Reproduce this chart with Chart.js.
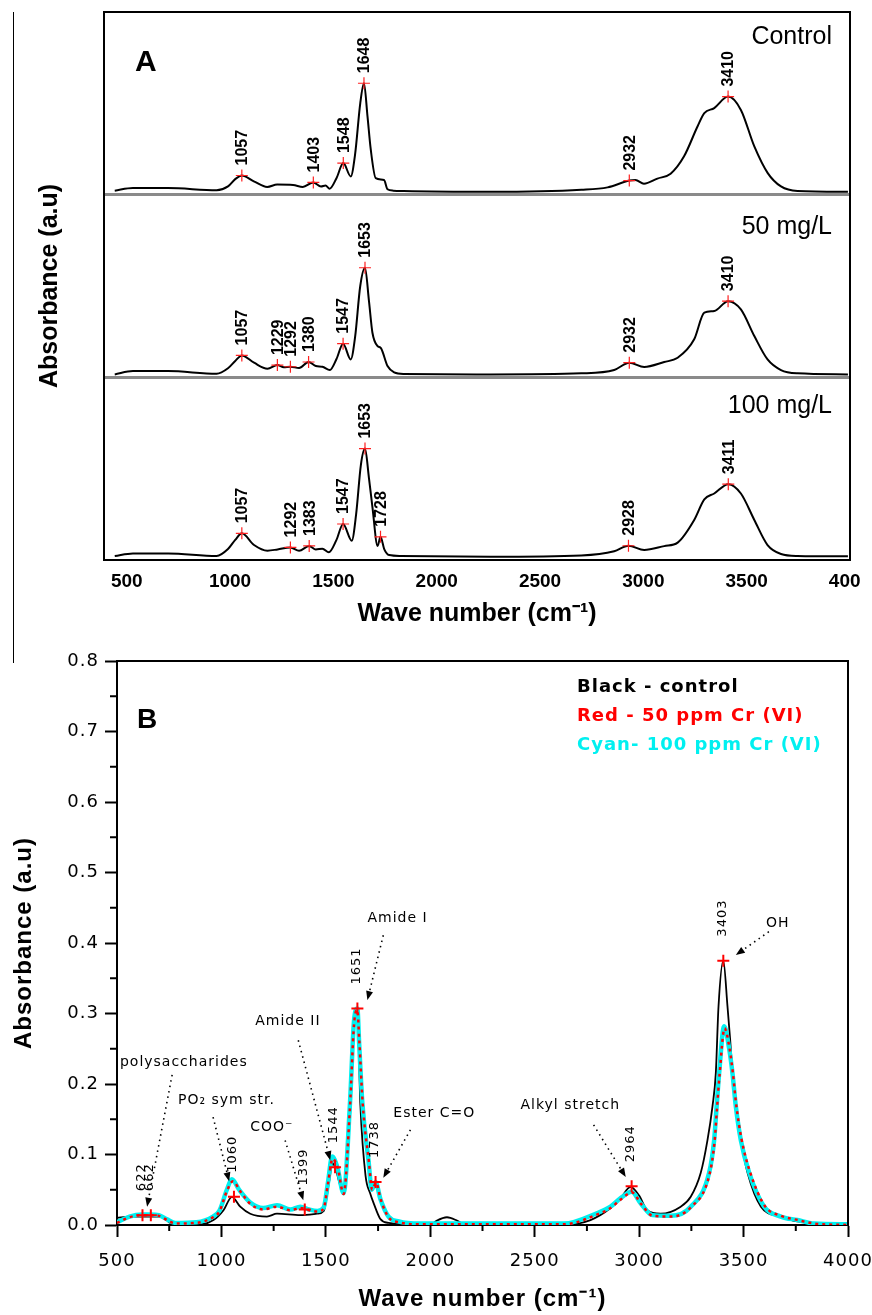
<!DOCTYPE html>
<html>
<head>
<meta charset="utf-8">
<script src="https://cdn.jsdelivr.net/npm/chart.js@4.4.1/dist/chart.umd.min.js"></script>
<style>
  html, body { margin: 0; padding: 0; background: #fff; }
  #wrap { position: relative; width: 872px; height: 1315px; overflow: hidden; background: #fff; }
  #boxA { position: absolute; left: 0; top: 0; }
  #boxB { position: absolute; left: 0; top: 640px; }
  #edge { position: absolute; left: 13px; top: 12px; width: 1px; height: 651px; background: #000; z-index: 5; }
</style>
</head>
<body>
<div id="wrap">
  <div id="boxA"><canvas id="chartA" width="860" height="640"></canvas></div>
  <div id="boxB"><canvas id="chartB" width="872" height="675"></canvas></div>
  <div id="edge"></div>
</div>
<script>
// ---- panel A : three FTIR spectra, stacked (values in a.u. of each band) ----
const ctrlWave = [442, 530, 700, 935, 990, 1025, 1057, 1115, 1180, 1228, 1305, 1352, 1403, 1440, 1462, 1482, 1515, 1548, 1584, 1605, 1630, 1648, 1665, 1681, 1705, 1745, 1762, 1790, 1840, 2260, 2700, 2827, 2932, 2962, 3003, 3068, 3132, 3197, 3262, 3295, 3343, 3410, 3472, 3537, 3602, 3666, 3746, 3990];
const ctrlAbs = [0.022, 0.036, 0.036, 0.024, 0.045, 0.085, 0.105, 0.073, 0.042, 0.055, 0.053, 0.042, 0.067, 0.045, 0.05, 0.033, 0.09, 0.173, 0.1, 0.22, 0.5, 0.61, 0.43, 0.246, 0.09, 0.08, 0.03, 0.022, 0.02, 0.016, 0.027, 0.04, 0.077, 0.08, 0.06, 0.088, 0.115, 0.21, 0.373, 0.446, 0.474, 0.537, 0.464, 0.264, 0.118, 0.045, 0.02, 0.016];
const ctrlPeaks = [1057, 1403, 1548, 1648, 2932, 3410];

const mg50Wave = [442, 530, 700, 935, 990, 1025, 1057, 1116, 1181, 1229, 1260, 1292, 1334, 1380, 1415, 1447, 1483, 1515, 1547, 1584, 1605, 1630, 1653, 1672, 1689, 1714, 1730, 1762, 1794, 1840, 2260, 2700, 2859, 2932, 3004, 3101, 3166, 3246, 3295, 3343, 3410, 3472, 3537, 3601, 3666, 3746, 3990];
const mg50Abs = [0.016, 0.034, 0.034, 0.02, 0.05, 0.09, 0.12, 0.08, 0.047, 0.067, 0.055, 0.058, 0.051, 0.084, 0.062, 0.058, 0.04, 0.1, 0.184, 0.098, 0.22, 0.5, 0.6, 0.42, 0.244, 0.171, 0.16, 0.062, 0.027, 0.018, 0.016, 0.022, 0.04, 0.08, 0.057, 0.084, 0.107, 0.208, 0.354, 0.363, 0.417, 0.372, 0.226, 0.098, 0.04, 0.022, 0.016];
const mg50Peaks = [1057, 1229, 1292, 1380, 1547, 1653, 2932, 3410];

const mg100Wave = [442, 530, 700, 935, 990, 1025, 1057, 1116, 1181, 1230, 1292, 1334, 1383, 1415, 1447, 1478, 1515, 1547, 1589, 1610, 1633, 1653, 1672, 1689, 1714, 1728, 1746, 1770, 1826, 2260, 2700, 2859, 2928, 3004, 3101, 3166, 3246, 3295, 3343, 3411, 3472, 3537, 3601, 3666, 3746, 3990];
const mg100Abs = [0.022, 0.036, 0.036, 0.022, 0.06, 0.11, 0.146, 0.082, 0.051, 0.058, 0.069, 0.051, 0.077, 0.058, 0.062, 0.042, 0.11, 0.197, 0.106, 0.25, 0.52, 0.61, 0.45, 0.29, 0.077, 0.127, 0.06, 0.027, 0.022, 0.018, 0.025, 0.048, 0.078, 0.055, 0.076, 0.095, 0.219, 0.332, 0.364, 0.415, 0.364, 0.219, 0.082, 0.033, 0.022, 0.02];
const mg100Peaks = [1057, 1292, 1383, 1547, 1653, 1728, 2928, 3411];

const sampleNamesA = ['Control', '50 mg/L', '100 mg/L'];
const xTicksA = [500, 1000, 1500, 2000, 2500, 3000, 3500, 4000];

// ---- panel B : overlaid spectra ----
const blackWave = [500, 560, 720, 754, 898, 962, 1010, 1050, 1090, 1138, 1218, 1266, 1378, 1458, 1490, 1515, 1532, 1546, 1585, 1615, 1635, 1651, 1665, 1690, 1712, 1730, 1760, 1800, 2000, 2030, 2080, 2130, 2170, 2640, 2767, 2863, 2911, 2959, 2999, 3039, 3103, 3199, 3247, 3295, 3327, 3351, 3367, 3380, 3403, 3423, 3436, 3447, 3463, 3487, 3519, 3583, 3678, 3758, 4000];
const blackAbs = [0.01, 0.012, 0.012, 0.003, 0.001, 0.007, 0.021, 0.04, 0.026, 0.016, 0.012, 0.016, 0.014, 0.016, 0.02, 0.06, 0.088, 0.08, 0.045, 0.15, 0.28, 0.307, 0.172, 0.07, 0.045, 0.03, 0.009, 0.003, 0.0, 0.006, 0.011, 0.006, 0.0, 0.0, 0.007, 0.024, 0.038, 0.054, 0.042, 0.021, 0.016, 0.026, 0.04, 0.074, 0.12, 0.168, 0.215, 0.31, 0.375, 0.31, 0.262, 0.215, 0.168, 0.12, 0.074, 0.026, 0.012, 0.005, 0.0];

const redWave = [500, 560, 622, 662, 700, 740, 780, 880, 960, 990, 1026, 1055, 1090, 1138, 1200, 1266, 1330, 1378, 1420, 1460, 1490, 1510, 1532, 1556, 1585, 1615, 1635, 1651, 1660, 1677, 1706, 1722, 1740, 1763, 1800, 1850, 1950, 2640, 2800, 2863, 2911, 2966, 3009, 3065, 3151, 3247, 3337, 3361, 3373, 3385, 3409, 3433, 3449, 3465, 3490, 3530, 3602, 3680, 3760, 3840, 4000];
const redAbs = [0.003, 0.011, 0.014, 0.014, 0.013, 0.007, 0.002, 0.003, 0.011, 0.019, 0.048, 0.062, 0.048, 0.03, 0.022, 0.026, 0.021, 0.024, 0.021, 0.019, 0.024, 0.058, 0.094, 0.082, 0.044, 0.165, 0.285, 0.305, 0.262, 0.17, 0.09, 0.05, 0.06, 0.036, 0.011, 0.004, 0.001, 0.001, 0.015, 0.024, 0.036, 0.046, 0.03, 0.013, 0.012, 0.025, 0.072, 0.118, 0.166, 0.213, 0.279, 0.25, 0.215, 0.17, 0.122, 0.076, 0.027, 0.013, 0.007, 0.002, 0.0];

const cyanWave = [500, 560, 620, 662, 700, 740, 780, 880, 960, 990, 1026, 1050, 1085, 1138, 1200, 1266, 1330, 1378, 1420, 1460, 1490, 1510, 1530, 1554, 1585, 1615, 1635, 1651, 1659, 1675, 1704, 1720, 1738, 1761, 1800, 1850, 1950, 2640, 2800, 2863, 2911, 2964, 3007, 3063, 3151, 3247, 3335, 3359, 3371, 3383, 3407, 3431, 3447, 3463, 3487, 3527, 3599, 3678, 3758, 3838, 4000];
const cyanAbs = [0.004, 0.012, 0.015, 0.015, 0.014, 0.008, 0.003, 0.004, 0.012, 0.02, 0.05, 0.065, 0.05, 0.032, 0.024, 0.028, 0.022, 0.026, 0.022, 0.02, 0.025, 0.06, 0.097, 0.083, 0.045, 0.17, 0.29, 0.307, 0.26, 0.172, 0.092, 0.05, 0.061, 0.037, 0.012, 0.005, 0.002, 0.002, 0.017, 0.026, 0.038, 0.047, 0.031, 0.014, 0.013, 0.026, 0.074, 0.12, 0.168, 0.215, 0.282, 0.25, 0.215, 0.168, 0.12, 0.074, 0.026, 0.012, 0.007, 0.002, 0.001];

const peakWaveB = [622, 662, 1060, 1399, 1544, 1651, 1738, 2964, 3403];
const peakAbsB = [0.014, 0.014, 0.04, 0.022, 0.082, 0.307, 0.061, 0.055, 0.375];

const xTicksB = [500, 1000, 1500, 2000, 2500, 3000, 3500, 4000];
const yTicksB = [0, 0.1, 0.2, 0.3, 0.4, 0.5, 0.6, 0.7, 0.8];

const legendB = [
  { text: 'Black - control', color: '#000000' },
  { text: 'Red - 50 ppm Cr (VI)', color: '#ff0000' },
  { text: 'Cyan- 100 ppm Cr (VI)', color: '#00f0f0' }
];

// band annotations: text anchor, start of dotted leader, arrow tip (all in data units)
const notesB = [
  { text: 'polysaccharides', at: [514, 0.231], from: [764, 0.213], to: [644, 0.026] },
  { text: 'PO₂ sym str.', at: [792, 0.177], from: [960, 0.153], to: [1037, 0.062] },
  { text: 'COO⁻', at: [1138, 0.139], from: [1305, 0.12], to: [1392, 0.035] },
  { text: 'Amide II', at: [1162, 0.289], from: [1368, 0.262], to: [1521, 0.092] },
  { text: 'Amide I', at: [1699, 0.435], from: [1775, 0.411], to: [1699, 0.319] },
  { text: 'Ester C=O', at: [1823, 0.159], from: [1905, 0.135], to: [1775, 0.067] },
  { text: 'Alkyl stretch', at: [2432, 0.17], from: [2782, 0.142], to: [2936, 0.068] },
  { text: 'OH', at: [3607, 0.428], from: [3621, 0.416], to: [3463, 0.383] }
];

const ARIAL = '"Liberation Sans", Arial, sans-serif';
const DEJAVU = '"DejaVu Sans", Verdana, sans-serif';

function toXY(xs, ys, off) {
  return xs.map((x, i) => ({ x: x, y: ys[i] + (off || 0) }));
}

const spectraA = [
  { wave: ctrlWave, abs: ctrlAbs, peaks: ctrlPeaks, offset: 2, name: sampleNamesA[0], nameDy: 25 },
  { wave: mg50Wave, abs: mg50Abs, peaks: mg50Peaks, offset: 1, name: sampleNamesA[1], nameDy: 32 },
  { wave: mg100Wave, abs: mg100Abs, peaks: mg100Peaks, offset: 0, name: sampleNamesA[2], nameDy: 29 }
];

function valueAt(s, p) {
  return s.abs[s.wave.indexOf(p)];
}

function vText(ctx, txt, x, y) {
  ctx.save();
  ctx.translate(x, y);
  ctx.rotate(-Math.PI / 2);
  ctx.fillText(txt, 0, 0);
  ctx.restore();
}

// keep the plot box where it is: no extra room for edge tick labels
function noEdgePad(s) {
  s.paddingLeft = 0; s.paddingRight = 0; s.paddingTop = 0; s.paddingBottom = 0;
}

// ===== Panel A =====
const plugA = {
  id: 'plugA',
  afterDatasetsDraw(chart) {
    const { ctx, chartArea: a, scales: { x, y } } = chart;
    ctx.save();
    ctx.strokeStyle = '#000';
    ctx.lineWidth = 2;
    ctx.strokeRect(a.left, a.top, a.right - a.left, a.bottom - a.top);

    ctx.fillStyle = '#000';
    ctx.font = 'bold 16px ' + ARIAL;
    ctx.textAlign = 'left';
    ctx.textBaseline = 'middle';
    spectraA.forEach(s => {
      s.peaks.forEach(p => {
        const px = x.getPixelForValue(p);
        const py = y.getPixelForValue(valueAt(s, p) + s.offset);
        vText(ctx, String(p), px + 1, py - 10);
      });
    });

    ctx.font = '25px ' + ARIAL;
    ctx.textAlign = 'right';
    spectraA.forEach(s => {
      const top = y.getPixelForValue(s.offset + 1);
      ctx.fillText(s.name, a.right - 18, top + s.nameDy);
    });

    ctx.font = 'bold 30px ' + ARIAL;
    ctx.textAlign = 'left';
    ctx.fillText('A', a.left + 31, a.top + 51);
    ctx.restore();
  }
};

const dsA = spectraA.map(s => ({
  data: toXY(s.wave, s.abs, s.offset),
  borderColor: '#000',
  borderWidth: 2,
  pointRadius: 0,
  cubicInterpolationMode: 'monotone',
  fill: false,
  order: 2
}));
dsA.push({
  data: spectraA.flatMap(s => s.peaks.map(p => ({ x: p, y: valueAt(s, p) + s.offset }))),
  showLine: false,
  pointStyle: 'cross',
  pointRadius: 6,
  borderColor: '#ff2020',
  borderWidth: 1.2,
  order: 0
});

new Chart(document.getElementById('chartA'), {
  type: 'line',
  data: { datasets: dsA },
  options: {
    responsive: false,
    animation: false,
    devicePixelRatio: 1,
    layout: { padding: { left: 0, top: 12, right: 10, bottom: 0 }, autoPadding: false },
    plugins: { legend: { display: false }, tooltip: { enabled: false } },
    scales: {
      x: {
        type: 'linear', min: 390, max: 4000,
        afterFit: s => { s.height = 80; noEdgePad(s); },
        afterBuildTicks: s => { s.ticks = xTicksA.map(v => ({ value: v })); },
        ticks: { font: { family: ARIAL, size: 19, weight: 'bold' }, color: '#000', padding: 2, maxRotation: 0, autoSkip: false, callback: v => String(v) },
        grid: { display: false },
        border: { display: false },
        title: { display: true, text: 'Wave number (cm⁻¹)', color: '#000', font: { family: ARIAL, size: 25, weight: 'bold' }, padding: { top: 0, bottom: 11 } }
      },
      y: {
        min: 0, max: 3,
        afterFit: s => { s.width = 104; noEdgePad(s); },
        ticks: { display: false, stepSize: 1 },
        grid: {
          color: c => (c.tick && (c.tick.value === 1 || c.tick.value === 2)) ? '#8a8a8a' : 'rgba(0,0,0,0)',
          lineWidth: 3, drawTicks: false
        },
        border: { display: false },
        title: { display: true, text: 'Absorbance (a.u)', color: '#000', font: { family: ARIAL, size: 25, weight: 'bold' }, padding: { top: 35, bottom: 0 } }
      }
    }
  },
  plugins: [plugA]
});

// ===== Panel B =====
function dottedArrow(ctx, x1, y1, x2, y2) {
  const ang = Math.atan2(y2 - y1, x2 - x1);
  const len = 9, half = 3.5;
  const bx = x2 - len * Math.cos(ang), by = y2 - len * Math.sin(ang);
  ctx.setLineDash([1.5, 4]);
  ctx.lineWidth = 1.6;
  ctx.beginPath();
  ctx.moveTo(x1, y1);
  ctx.lineTo(bx, by);
  ctx.stroke();
  ctx.setLineDash([]);
  ctx.beginPath();
  ctx.moveTo(x2, y2);
  ctx.lineTo(bx + half * Math.sin(ang), by - half * Math.cos(ang));
  ctx.lineTo(bx - half * Math.sin(ang), by + half * Math.cos(ang));
  ctx.closePath();
  ctx.fill();
}

const plugB = {
  id: 'plugB',
  beforeDraw(chart) {
    chart.ctx.letterSpacing = '1px';
  },
  afterDraw(chart) {
    const { ctx, chartArea: a, scales: { x, y } } = chart;
    ctx.save();
    ctx.letterSpacing = '1px';
    ctx.strokeStyle = '#000';
    ctx.fillStyle = '#000';
    ctx.lineWidth = 2;
    // top and right frame
    ctx.beginPath();
    ctx.moveTo(a.left, a.top);
    ctx.lineTo(a.right, a.top);
    ctx.lineTo(a.right, a.bottom);
    ctx.stroke();
    // minor ticks
    xTicksB.slice(0, -1).forEach(v => {
      const px = x.getPixelForValue(v + 250);
      ctx.beginPath(); ctx.moveTo(px, a.bottom); ctx.lineTo(px, a.bottom + 6); ctx.stroke();
    });
    yTicksB.slice(0, -1).forEach(v => {
      const py = y.getPixelForValue(v + 0.05);
      ctx.beginPath(); ctx.moveTo(a.left - 7, py); ctx.lineTo(a.left, py); ctx.stroke();
    });

    // leaders and band names
    notesB.forEach(n => {
      dottedArrow(ctx, x.getPixelForValue(n.from[0]), y.getPixelForValue(n.from[1]),
                  x.getPixelForValue(n.to[0]), y.getPixelForValue(n.to[1]));
    });
    ctx.font = '14px ' + DEJAVU;
    ctx.textAlign = 'left';
    ctx.textBaseline = 'middle';
    notesB.forEach(n => {
      ctx.fillText(n.text, x.getPixelForValue(n.at[0]), y.getPixelForValue(n.at[1]));
    });

    // peak labels
    ctx.font = '13px ' + DEJAVU;
    peakWaveB.forEach((w, i) => {
      vText(ctx, String(w), x.getPixelForValue(w) - 1, y.getPixelForValue(peakAbsB[i]) - 24);
    });

    // legend text
    ctx.font = 'bold 18px ' + DEJAVU;
    legendB.forEach((l, i) => {
      ctx.fillStyle = l.color;
      ctx.fillText(l.text, a.left + 460, a.top + 26 + i * 29);
    });

    ctx.fillStyle = '#000';
    ctx.letterSpacing = '0px';
    ctx.font = 'bold 28px ' + ARIAL;
    ctx.fillText('B', a.left + 20, a.top + 59);
    ctx.restore();
  }
};

const lineB = (xs, ys, color, width, dash, order) => ({
  data: toXY(xs, ys, 0),
  borderColor: color,
  borderWidth: width,
  borderDash: dash,
  pointRadius: 0,
  cubicInterpolationMode: 'monotone',
  fill: false,
  order: order
});

new Chart(document.getElementById('chartB'), {
  type: 'line',
  data: {
    datasets: [
      lineB(blackWave, blackAbs, '#000000', 1.8, [], 3),
      lineB(cyanWave, cyanAbs, '#00f0f0', 4.5, [], 2),
      lineB(redWave, redAbs, '#ff0000', 2.5, [3, 4], 1),
      {
        data: peakWaveB.map((w, i) => ({ x: w, y: peakAbsB[i] })),
        showLine: false,
        pointStyle: 'cross',
        pointRadius: 6,
        borderColor: '#ff0000',
        borderWidth: 2,
        order: 0
      }
    ]
  },
  options: {
    responsive: false,
    animation: false,
    devicePixelRatio: 1,
    layout: { padding: { left: 0, top: 21, right: 24, bottom: 0 }, autoPadding: false },
    plugins: { legend: { display: false }, tooltip: { enabled: false } },
    scales: {
      x: {
        type: 'linear', min: 500, max: 4000,
        afterFit: s => { s.height = 90; noEdgePad(s); },
        afterBuildTicks: s => { s.ticks = xTicksB.map(v => ({ value: v })); },
        ticks: { font: { family: DEJAVU, size: 18 }, color: '#000', padding: 14, maxRotation: 0, autoSkip: false, callback: v => String(v) },
        grid: { drawOnChartArea: false, drawTicks: true, tickLength: 12, tickWidth: 2, tickColor: '#000' },
        border: { display: true, width: 2, color: '#000' },
        title: { display: true, text: 'Wave number (cm⁻¹)', color: '#000', font: { family: ARIAL, size: 24, weight: 'bold' }, padding: { top: 0, bottom: 1 } }
      },
      y: {
        min: 0, max: 0.8,
        afterFit: s => { s.width = 117; noEdgePad(s); },
        afterBuildTicks: s => { s.ticks = yTicksB.map(v => ({ value: v })); },
        ticks: { font: { family: DEJAVU, size: 18 }, color: '#000', padding: 6, callback: v => Number(v).toFixed(1) },
        grid: { drawOnChartArea: false, drawTicks: true, tickLength: 12, tickWidth: 2, tickColor: '#000' },
        border: { display: true, width: 2, color: '#000' },
        title: { display: true, text: 'Absorbance (a.u)', color: '#000', font: { family: ARIAL, size: 24, weight: 'bold' }, padding: { top: 10, bottom: 0 } }
      }
    }
  },
  plugins: [plugB]
});
</script>
</body>
</html>
